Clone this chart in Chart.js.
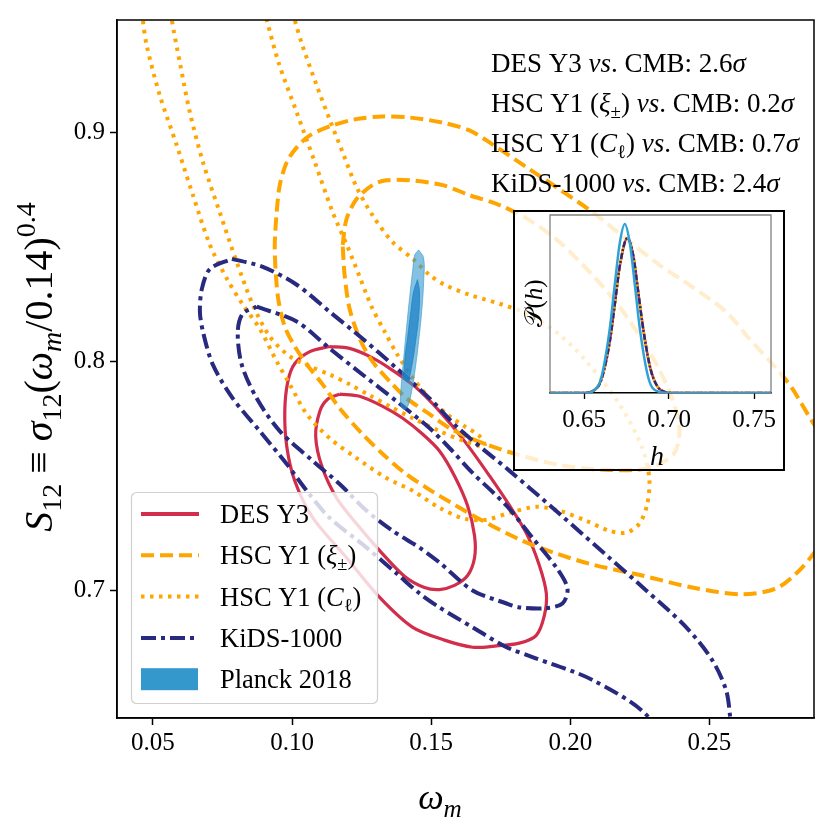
<!DOCTYPE html>
<html>
<head>
<meta charset="utf-8">
<script src="https://cdn.jsdelivr.net/npm/chart.js@4.4.0/dist/chart.umd.min.js"></script>
<style>
  html, body { margin: 0; padding: 0; background: #fff; }
  #wrap { position: relative; width: 830px; height: 832px; }
  #mainChart { position: absolute; left: 0; top: 0; }
  #insetChart { position: absolute; left: 513px; top: 210px; }
</style>
</head>
<body>
<div id="wrap">
  <canvas id="mainChart" width="830" height="832"></canvas>
  <canvas id="insetChart" width="272" height="261"></canvas>
</div>
<script>
// ---- main panel: axis ranges and ticks (omega_m, S12) ----
const xRange = [0.0371, 0.2876];
const yRange = [0.6443, 0.9491];
const xTicks = [0.05, 0.10, 0.15, 0.20, 0.25];
const xTickLabels = ['0.05', '0.10', '0.15', '0.20', '0.25'];
const yTicks = [0.7, 0.8, 0.9];
const yTickLabels = ['0.7', '0.8', '0.9'];

// ---- contours, [omega_m, S12] ----
const desOuter = [[0.1135,0.8065],[0.1207,0.8057],[0.1279,0.8022],[0.1351,0.7970],[0.1441,0.7891],[0.1530,0.7783],[0.1620,0.7652],[0.1710,0.7500],[0.1782,0.7370],[0.1843,0.7248],[0.1889,0.7109],[0.1914,0.6987],[0.1907,0.6891],[0.1878,0.6804],[0.1817,0.6770],[0.1728,0.6757],[0.1649,0.6752],[0.1548,0.6783],[0.1434,0.6839],[0.1315,0.6970],[0.1196,0.7143],[0.1075,0.7317],[0.1010,0.7478],[0.0981,0.7630],[0.0974,0.7783],[0.0985,0.7913],[0.1010,0.7991],[0.1064,0.8043],[0.1135,0.8065]];
const desInner = [[0.1171,0.7857],[0.1243,0.7848],[0.1326,0.7804],[0.1398,0.7752],[0.1469,0.7683],[0.1530,0.7609],[0.1584,0.7500],[0.1631,0.7370],[0.1656,0.7239],[0.1656,0.7143],[0.1631,0.7065],[0.1584,0.7022],[0.1530,0.7004],[0.1476,0.7013],[0.1405,0.7061],[0.1315,0.7174],[0.1232,0.7291],[0.1160,0.7404],[0.1107,0.7543],[0.1085,0.7674],[0.1100,0.7783],[0.1128,0.7835],[0.1171,0.7857]];

const kidsOuter = [[0.0784,0.8448],[0.0895,0.8413],[0.1017,0.8335],[0.1135,0.8217],[0.1253,0.8100],[0.1376,0.7970],[0.1494,0.7839],[0.1602,0.7704],[0.1782,0.7522],[0.1961,0.7335],[0.2140,0.7143],[0.2273,0.7000],[0.2417,0.6839],[0.2510,0.6696],[0.2560,0.6565],[0.2575,0.6443],[0.2590,0.6250],[0.2330,0.6250],[0.2284,0.6443],[0.2080,0.6609],[0.1864,0.6709],[0.1771,0.6752],[0.1649,0.6839],[0.1530,0.6926],[0.1458,0.6987],[0.1376,0.7074],[0.1268,0.7187],[0.1135,0.7317],[0.1053,0.7435],[0.0981,0.7552],[0.0884,0.7696],[0.0787,0.7839],[0.0715,0.7987],[0.0680,0.8130],[0.0669,0.8217],[0.0676,0.8317],[0.0705,0.8404],[0.0784,0.8448]];
const kidsInner = [[0.0873,0.8239],[0.1017,0.8174],[0.1135,0.8057],[0.1253,0.7943],[0.1376,0.7826],[0.1494,0.7709],[0.1566,0.7622],[0.1649,0.7513],[0.1771,0.7370],[0.1864,0.7230],[0.1950,0.7100],[0.1990,0.7009],[0.1972,0.6943],[0.1907,0.6922],[0.1817,0.6926],[0.1771,0.6943],[0.1649,0.7000],[0.1530,0.7122],[0.1458,0.7187],[0.1361,0.7261],[0.1268,0.7348],[0.1171,0.7465],[0.1075,0.7565],[0.0956,0.7696],[0.0873,0.7839],[0.0819,0.7987],[0.0805,0.8130],[0.0823,0.8209],[0.0873,0.8239]];

const hscXiOuter = [[0.2930,0.7630],[0.2869,0.7739],[0.2797,0.7883],[0.2740,0.7970],[0.2643,0.8100],[0.2560,0.8217],[0.2438,0.8326],[0.2320,0.8422],[0.2201,0.8535],[0.2080,0.8652],[0.1961,0.8752],[0.1843,0.8848],[0.1720,0.8948],[0.1638,0.9009],[0.1541,0.9043],[0.1423,0.9065],[0.1326,0.9070],[0.1225,0.9057],[0.1135,0.9026],[0.1064,0.8987],[0.1017,0.8935],[0.0981,0.8870],[0.0956,0.8770],[0.0945,0.8652],[0.0938,0.8509],[0.0942,0.8378],[0.0952,0.8261],[0.0974,0.8152],[0.1010,0.8065],[0.1064,0.7970],[0.1110,0.7900],[0.1171,0.7796],[0.1253,0.7683],[0.1326,0.7596],[0.1405,0.7513],[0.1484,0.7448],[0.1530,0.7413],[0.1685,0.7304],[0.1828,0.7217],[0.1950,0.7161],[0.2080,0.7113],[0.2259,0.7065],[0.2438,0.7013],[0.2618,0.6983],[0.2740,0.7009],[0.2812,0.7074],[0.2869,0.7152],[0.2930,0.7261],[0.2930,0.7630]];
const hscXiInner = [[0.1182,0.8509],[0.1196,0.8622],[0.1232,0.8709],[0.1289,0.8770],[0.1339,0.8791],[0.1423,0.8791],[0.1541,0.8770],[0.1638,0.8726],[0.1746,0.8683],[0.1853,0.8617],[0.1961,0.8522],[0.2069,0.8391],[0.2177,0.8239],[0.2284,0.8043],[0.2356,0.7870],[0.2392,0.7717],[0.2374,0.7600],[0.2284,0.7535],[0.2140,0.7526],[0.1961,0.7548],[0.1792,0.7600],[0.1649,0.7661],[0.1566,0.7709],[0.1494,0.7770],[0.1412,0.7839],[0.1351,0.7913],[0.1289,0.8000],[0.1243,0.8100],[0.1207,0.8230],[0.1189,0.8378],[0.1182,0.8509]];

const hscClOuter = [[0.0461,0.9565],[0.0464,0.9491],[0.0478,0.9378],[0.0525,0.9161],[0.0586,0.8943],[0.0644,0.8726],[0.0705,0.8509],[0.0766,0.8361],[0.0823,0.8248],[0.0884,0.8143],[0.0945,0.8000],[0.0992,0.7900],[0.1053,0.7770],[0.1135,0.7665],[0.1232,0.7578],[0.1339,0.7491],[0.1434,0.7435],[0.1530,0.7361],[0.1620,0.7313],[0.1699,0.7309],[0.1782,0.7339],[0.1878,0.7365],[0.1961,0.7348],[0.2058,0.7304],[0.2140,0.7261],[0.2201,0.7252],[0.2248,0.7291],[0.2277,0.7378],[0.2284,0.7491],[0.2259,0.7622],[0.2177,0.7813],[0.2058,0.8000],[0.1961,0.8117],[0.1853,0.8204],[0.1746,0.8252],[0.1638,0.8291],[0.1548,0.8335],[0.1494,0.8378],[0.1434,0.8448],[0.1361,0.8522],[0.1289,0.8639],[0.1232,0.8761],[0.1182,0.8913],[0.1135,0.9057],[0.1089,0.9204],[0.1038,0.9378],[0.1010,0.9491],[0.0999,0.9565]];
const hscClInner = [[0.0561,0.9565],[0.0568,0.9491],[0.0597,0.9304],[0.0633,0.9087],[0.0680,0.8870],[0.0740,0.8652],[0.0801,0.8435],[0.0859,0.8248],[0.0920,0.8109],[0.0992,0.8022],[0.1064,0.7978],[0.1135,0.7943],[0.1207,0.7900],[0.1279,0.7852],[0.1351,0.7804],[0.1434,0.7752],[0.1530,0.7696],[0.1620,0.7652],[0.1692,0.7630],[0.1674,0.7674],[0.1620,0.7717],[0.1566,0.7761],[0.1494,0.7839],[0.1430,0.7935],[0.1376,0.8035],[0.1333,0.8130],[0.1286,0.8239],[0.1243,0.8370],[0.1200,0.8500],[0.1146,0.8652],[0.1082,0.8870],[0.1017,0.9087],[0.0952,0.9304],[0.0909,0.9491],[0.0891,0.9565]];

const planckOuter = [[0.1455,0.8487],[0.1473,0.8452],[0.1473,0.8348],[0.1466,0.8217],[0.1455,0.8087],[0.1444,0.7978],[0.1430,0.7870],[0.1416,0.7804],[0.1402,0.7791],[0.1390,0.7817],[0.1394,0.7913],[0.1402,0.8022],[0.1412,0.8152],[0.1423,0.8283],[0.1434,0.8400],[0.1441,0.8465],[0.1455,0.8487]];
const planckInner = [[0.1451,0.8357],[0.1458,0.8304],[0.1455,0.8196],[0.1444,0.8087],[0.1430,0.7978],[0.1416,0.7913],[0.1405,0.7922],[0.1405,0.8000],[0.1416,0.8109],[0.1427,0.8217],[0.1437,0.8304],[0.1451,0.8357]];

// ---- inset: P(h) ----
const hRange = [0.63, 0.76];
const hTicks = [0.65, 0.70, 0.75];
const hTickLabels = ['0.65', '0.70', '0.75'];
const hPlanck = [0.630, 0.650, 0.655, 0.660, 0.665, 0.668, 0.671, 0.674, 0.677, 0.680, 0.683, 0.688, 0.693, 0.700, 0.760];
const pPlanck = [0, 0, 0.01, 0.08, 0.35, 0.60, 0.84, 0.95, 0.84, 0.60, 0.35, 0.08, 0.01, 0, 0];
const hSurveys = [0.630, 0.650, 0.655, 0.660, 0.665, 0.668, 0.671, 0.6755, 0.679, 0.682, 0.685, 0.689, 0.693, 0.698, 0.705, 0.760];
const pSurveys = [0, 0, 0.01, 0.07, 0.28, 0.49, 0.71, 0.87, 0.77, 0.56, 0.35, 0.14, 0.04, 0.005, 0, 0];

// ---- text ----
const annotations = [
  [{t: 'DES Y3 '}, {t: 'vs', it: true}, {t: '. CMB: 2.6'}, {t: 'σ', it: true}],
  [{t: 'HSC Y1 ('}, {t: 'ξ', it: true}, {t: '±', sub: true}, {t: ') '}, {t: 'vs', it: true}, {t: '. CMB: 0.2'}, {t: 'σ', it: true}],
  [{t: 'HSC Y1 ('}, {t: 'C', it: true}, {t: 'ℓ', sub: true}, {t: ') '}, {t: 'vs', it: true}, {t: '. CMB: 0.7'}, {t: 'σ', it: true}],
  [{t: 'KiDS-1000 '}, {t: 'vs', it: true}, {t: '. CMB: 2.4'}, {t: 'σ', it: true}]
];
const legendLabels = [
  [{t: 'DES Y3'}],
  [{t: 'HSC Y1 ('}, {t: 'ξ', it: true}, {t: '±', sub: true}, {t: ')'}],
  [{t: 'HSC Y1 ('}, {t: 'C', it: true}, {t: 'ℓ', sub: true}, {t: ')'}],
  [{t: 'KiDS-1000'}],
  [{t: 'Planck 2018'}]
];
const xTitle = [{t: 'ω', it: true}, {t: 'm', it: true, sub: true}];
const yTitle = [{t: 'S', it: true}, {t: '12', sub: true}, {t: ' ≡ '}, {t: 'σ', it: true}, {t: '12', sub: true}, {t: '('}, {t: 'ω', it: true}, {t: 'm', it: true, sub: true}, {t: '/0.14)'}, {t: '0.4', sup: true}];

// ---- styles ----
const SERIF = '"Liberation Serif", "DejaVu Serif", serif';
const desColor = 'rgb(210,45,75)';
const hscColor = '#ffa500';
const kidsColor = '#282a7f';
const planckColor = '#3498cc';
const dashXi = [13, 6];
const dashCl = [3.5, 5.5];
const dashKids = [15, 5, 4, 5];

function segFont(s, size) {
  const fs = (s.sub || s.sup) ? size * 0.7 : size;
  return (s.it ? 'italic ' : '') + fs.toFixed(1) + 'px ' + SERIF;
}
function richWidth(ctx, segs, size) {
  let w = 0;
  segs.forEach(s => { ctx.font = segFont(s, size); w += ctx.measureText(s.t).width; });
  return w;
}
function drawRich(ctx, segs, x, y, size, align) {
  let cx = align === 'center' ? x - richWidth(ctx, segs, size) / 2 : x;
  ctx.textAlign = 'left';
  ctx.textBaseline = 'alphabetic';
  segs.forEach(s => {
    ctx.font = segFont(s, size);
    const dy = s.sub ? size * 0.22 : (s.sup ? -size * 0.42 : 0);
    ctx.fillText(s.t, cx, y + dy);
    cx += ctx.measureText(s.t).width;
  });
}

const toXY = pts => pts.map(p => ({x: p[0], y: p[1]}));
const zipXY = (xs, ys) => xs.map((x, i) => ({x, y: ys[i]}));

function contourSet(label, pts, color, dash, width, order) {
  return {
    label, data: toXY(pts), showLine: true, fill: false,
    borderColor: color, borderWidth: width, borderDash: dash,
    pointRadius: 0, pointHoverRadius: 0, tension: 0.3, order, clip: 0
  };
}
function filledSet(label, pts, color, order) {
  return {
    label, data: toXY(pts), showLine: true, fill: 'shape',
    backgroundColor: color, borderColor: color, borderWidth: 1,
    pointRadius: 0, pointHoverRadius: 0, tension: 0.4, order, clip: 0
  };
}

// legend box, annotations, frame, axis titles
const mainDecor = {
  id: 'mainDecor',
  afterDraw(chart) {
    const ctx = chart.ctx, a = chart.chartArea;
    ctx.save();
    ctx.strokeStyle = '#000';
    ctx.lineWidth = 1.5;
    ctx.strokeRect(a.left, a.top, a.right - a.left, a.bottom - a.top);

    ctx.fillStyle = '#000';
    annotations.forEach((segs, i) => drawRich(ctx, segs, 491, 72 + i * 40, 27, 'left'));

    // legend
    const lx = 131.5, ly = 492.5, lw = 246, lh = 211, r = 5;
    ctx.beginPath();
    ctx.moveTo(lx + r, ly);
    ctx.arcTo(lx + lw, ly, lx + lw, ly + lh, r);
    ctx.arcTo(lx + lw, ly + lh, lx, ly + lh, r);
    ctx.arcTo(lx, ly + lh, lx, ly, r);
    ctx.arcTo(lx, ly, lx + lw, ly, r);
    ctx.closePath();
    ctx.fillStyle = 'rgba(255,255,255,0.8)';
    ctx.fill();
    ctx.strokeStyle = '#d0d0d0';
    ctx.lineWidth = 1.2;
    ctx.stroke();

    const styles = [
      {color: desColor, dash: []},
      {color: hscColor, dash: dashXi},
      {color: hscColor, dash: dashCl},
      {color: kidsColor, dash: dashKids},
      {color: planckColor, patch: true}
    ];
    styles.forEach((st, i) => {
      const cy = 514 + i * 41.3;
      if (st.patch) {
        ctx.fillStyle = st.color;
        ctx.fillRect(141, cy - 11, 57, 22);
      } else {
        ctx.beginPath();
        ctx.setLineDash(st.dash);
        ctx.strokeStyle = st.color;
        ctx.lineWidth = 4;
        ctx.moveTo(141, cy);
        ctx.lineTo(199, cy);
        ctx.stroke();
        ctx.setLineDash([]);
      }
      ctx.fillStyle = '#000';
      drawRich(ctx, legendLabels[i], 220, cy + 9, 26.5, 'left');
    });

    // axis titles
    drawRich(ctx, xTitle, 440, 809, 36, 'center');
    ctx.translate(52, 367);
    ctx.rotate(-Math.PI / 2);
    drawRich(ctx, yTitle, 0, 0, 40, 'center');
    ctx.restore();
  }
};

new Chart(document.getElementById('mainChart'), {
  type: 'scatter',
  data: {
    datasets: [
      filledSet('Planck 2018 (95%)', planckOuter, 'rgba(52,152,204,0.6)', 1),
      filledSet('Planck 2018 (68%)', planckInner, 'rgba(30,130,200,0.75)', 0),
      contourSet('KiDS-1000', kidsOuter, kidsColor, dashKids, 4, 2),
      contourSet('KiDS-1000', kidsInner, kidsColor, dashKids, 4, 2),
      contourSet('HSC Y1 (Cl)', hscClOuter, hscColor, dashCl, 4, 3),
      contourSet('HSC Y1 (Cl)', hscClInner, hscColor, dashCl, 4, 3),
      contourSet('HSC Y1 (xi)', hscXiOuter, hscColor, dashXi, 4, 4),
      contourSet('HSC Y1 (xi)', hscXiInner, hscColor, dashXi, 4, 4),
      contourSet('DES Y3', desOuter, desColor, [], 3.2, 5),
      contourSet('DES Y3', desInner, desColor, [], 3.2, 5)
    ]
  },
  options: {
    responsive: false,
    animation: false,
    devicePixelRatio: 1,
    layout: { padding: { top: 17, right: 16, left: 0, bottom: 0 } },
    elements: { line: { capBezierPoints: false } },
    plugins: { legend: { display: false }, tooltip: { enabled: false } },
    scales: {
      x: {
        type: 'linear', min: xRange[0], max: xRange[1],
        afterBuildTicks: s => { s.ticks = xTicks.map(v => ({value: v})); },
        afterFit: s => { s.height = 114; },
        ticks: { font: { family: SERIF, size: 25 }, color: '#000', padding: 3, maxRotation: 0, autoSkip: false,
                 callback: (v, i) => xTickLabels[i] },
        grid: { drawOnChartArea: false, drawTicks: true, tickLength: 7, tickColor: '#000', tickWidth: 1.5 },
        border: { color: '#000', width: 1.5 }
      },
      y: {
        type: 'linear', min: yRange[0], max: yRange[1],
        afterBuildTicks: s => { s.ticks = yTicks.map(v => ({value: v})); },
        afterFit: s => { s.width = 117; },
        ticks: { font: { family: SERIF, size: 25 }, color: '#000', padding: 5, autoSkip: false,
                 callback: (v, i) => yTickLabels[i] },
        grid: { drawOnChartArea: false, drawTicks: true, tickLength: 7, tickColor: '#000', tickWidth: 1.5 },
        border: { color: '#000', width: 1.5 }
      }
    }
  },
  plugins: [mainDecor]
});

// ---- inset ----
const insetDecor = {
  id: 'insetDecor',
  beforeDraw(chart) {
    const ctx = chart.ctx;
    ctx.save();
    ctx.fillStyle = 'rgba(255,255,255,0.8)';
    ctx.fillRect(0, 0, chart.width, chart.height);
    ctx.restore();
  },
  afterDraw(chart) {
    const ctx = chart.ctx, a = chart.chartArea;
    ctx.save();
    ctx.strokeStyle = '#808080';
    ctx.lineWidth = 1.3;
    ctx.beginPath();
    ctx.moveTo(a.left, a.bottom);
    ctx.lineTo(a.left, a.top);
    ctx.lineTo(a.right, a.top);
    ctx.lineTo(a.right, a.bottom);
    ctx.stroke();
    ctx.strokeStyle = '#000';
    ctx.lineWidth = 2;
    ctx.strokeRect(1, 1, chart.width - 2, chart.height - 2);
    ctx.fillStyle = '#000';
    drawRich(ctx, [{t: 'h', it: true}], 144, 255, 28, 'center');
    ctx.translate(29, 93);
    ctx.rotate(-Math.PI / 2);
    drawRich(ctx, [{t: '𝒫'}, {t: '('}, {t: 'h', it: true}, {t: ')'}], 0, 0, 25, 'center');
    ctx.restore();
  }
};

function pdfSet(label, xs, ys, color, dash, order) {
  return {
    label, data: zipXY(xs, ys), showLine: true, fill: false,
    borderColor: color, borderWidth: 2.5, borderDash: dash,
    pointRadius: 0, cubicInterpolationMode: 'monotone', order, clip: 0
  };
}

new Chart(document.getElementById('insetChart'), {
  type: 'scatter',
  data: {
    datasets: [
      pdfSet('Planck 2018', hPlanck, pPlanck, '#2ea2d6', [], 0),
      pdfSet('KiDS-1000', hSurveys, pSurveys, kidsColor, [6, 2, 2, 2], 1),
      pdfSet('HSC Y1 (Cl)', hSurveys, pSurveys, hscColor, [2, 3], 2),
      pdfSet('HSC Y1 (xi)', hSurveys, pSurveys, hscColor, [5, 3], 3),
      pdfSet('DES Y3', hSurveys, pSurveys, desColor, [], 4)
    ]
  },
  options: {
    responsive: false,
    animation: false,
    devicePixelRatio: 1,
    layout: { padding: { top: 5, right: 14, left: 0, bottom: 0 } },
    plugins: { legend: { display: false }, tooltip: { enabled: false } },
    scales: {
      x: {
        type: 'linear', min: hRange[0], max: hRange[1],
        afterBuildTicks: s => { s.ticks = hTicks.map(v => ({value: v})); },
        afterFit: s => { s.height = 78; },
        ticks: { font: { family: SERIF, size: 25 }, color: '#000', padding: 6, maxRotation: 0, autoSkip: false,
                 callback: (v, i) => hTickLabels[i] },
        grid: { drawOnChartArea: false, drawTicks: true, tickLength: 6, tickColor: '#000', tickWidth: 1.3 },
        border: { color: '#000', width: 1.5 }
      },
      y: {
        type: 'linear', min: 0, max: 1,
        afterFit: s => { s.width = 37; },
        ticks: { display: false },
        grid: { display: false },
        border: { display: false }
      }
    }
  },
  plugins: [insetDecor]
});
</script>
</body>
</html>
